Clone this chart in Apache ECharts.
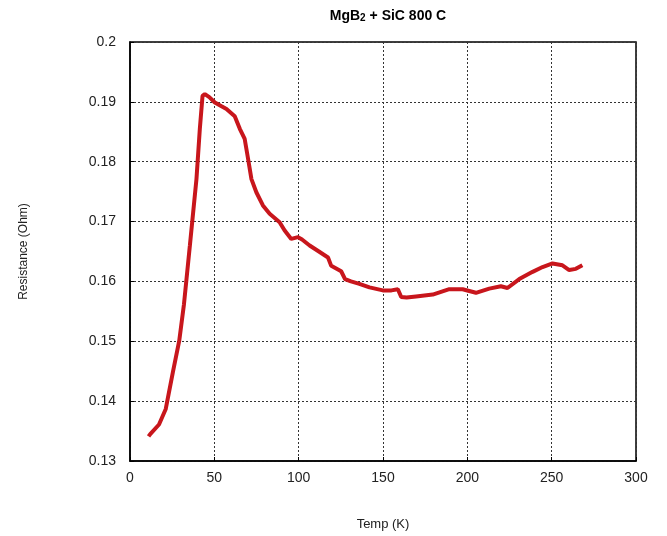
<!DOCTYPE html>
<html>
<head>
<meta charset="utf-8">
<script src="https://cdn.jsdelivr.net/npm/echarts@6/dist/echarts.min.js"></script>
<style>
  html, body { margin: 0; padding: 0; background: #fff; }
  #main { width: 667px; height: 536px; }
</style>
</head>
<body>
<div id="main"></div>
<script>
// temperature (K) and resistance (Ohm)
var temps = [11, 12, 17.2, 21.2, 25.4, 29.2, 32, 35.5, 39.4, 41.4, 43, 44.4, 47, 50.3, 54, 57.2, 62.1, 65.1, 68, 70, 72, 74.9, 78.8, 82.8, 88.7, 91.7, 95.6, 99.6, 102, 106.5, 112, 117.4, 119.3, 125.2, 127.5, 131, 136, 142, 149.9, 155, 158.8, 160.8, 164, 169.6, 179.5, 189.3, 197.2, 205.1, 213, 219.9, 223.8, 230.8, 238.7, 244.6, 250.5, 256.4, 260.4, 264.3, 268.2];
var resist = [0.1341, 0.1345, 0.1361, 0.1387, 0.1448, 0.1501, 0.1562, 0.1660, 0.1771, 0.1855, 0.1910, 0.1913, 0.1908, 0.1899, 0.1893, 0.1888, 0.1876, 0.1855, 0.1838, 0.1805, 0.1771, 0.1749, 0.1727, 0.1713, 0.1699, 0.1685, 0.1671, 0.1674, 0.1670, 0.1660, 0.1650, 0.1640, 0.1626, 0.1617, 0.1604, 0.1600, 0.1596, 0.1590, 0.1585, 0.1585, 0.1587, 0.1574, 0.1573, 0.1575, 0.1578, 0.1587, 0.1587, 0.1581, 0.1588, 0.1592, 0.1589, 0.1604, 0.1616, 0.1624, 0.1630, 0.1627, 0.1619, 0.1621, 0.1627];

var points = temps.map(function (t, i) { return [t, resist[i]]; });

var myChart = echarts.init(document.getElementById('main'));
var font = 'Liberation Sans, Arial, sans-serif';

var option = {
    backgroundColor: '#fff',
    animation: false,
    title: {
        text: '{b|MgB}{s|2}{b| + SiC 800 C}',
        left: 383,
        textAlign: 'center',
        top: 4,
        textStyle: {
            rich: {
                b: { fontFamily: font, fontWeight: 'bold', fontSize: 14, color: '#000' },
                s: { fontFamily: font, fontWeight: 'bold', fontSize: 10, color: '#000', verticalAlign: 'bottom', padding: [4, 0, 0, 0] }
            }
        }
    },
    grid: {
        left: 130,
        right: 31,
        top: 42,
        bottom: 74,
        show: true,
        borderColor: '#000',
        borderWidth: 1.5
    },
    xAxis: {
        type: 'value',
        min: 0,
        max: 300,
        interval: 50,
        name: 'Temp (K)',
        nameLocation: 'middle',
        nameGap: 57,
        nameTextStyle: { fontFamily: font, fontSize: 13, color: '#222' },
        axisLine: { lineStyle: { color: '#000', width: 1.5 } },
        axisTick: { inside: true, length: 4, lineStyle: { color: '#000' } },
        axisLabel: { fontFamily: font, fontSize: 14, color: '#222', margin: 10 },
        splitLine: { show: true, lineStyle: { color: '#333', type: [2, 2], width: 1 } }
    },
    yAxis: {
        type: 'value',
        min: 0.13,
        max: 0.2,
        interval: 0.01,
        name: 'Resistance (Ohm)',
        nameLocation: 'middle',
        nameGap: 100,
        nameTextStyle: { fontFamily: font, fontSize: 12, color: '#222' },
        axisLine: { show: true, lineStyle: { color: '#000', width: 1.5 } },
        axisTick: { show: true, inside: true, length: 4, lineStyle: { color: '#000' } },
        axisLabel: {
            fontFamily: font, fontSize: 14, color: '#222', margin: 14,
            formatter: function (v) { return String(+v.toFixed(2)); }
        },
        splitLine: { show: true, lineStyle: { color: '#333', type: [2, 2], width: 1 } }
    },
    series: [{
        type: 'line',
        data: points,
        showSymbol: false,
        lineStyle: { color: '#c8161c', width: 4 },
        itemStyle: { color: '#c8161c' }
    }]
};

myChart.setOption(option);
</script>
</body>
</html>
